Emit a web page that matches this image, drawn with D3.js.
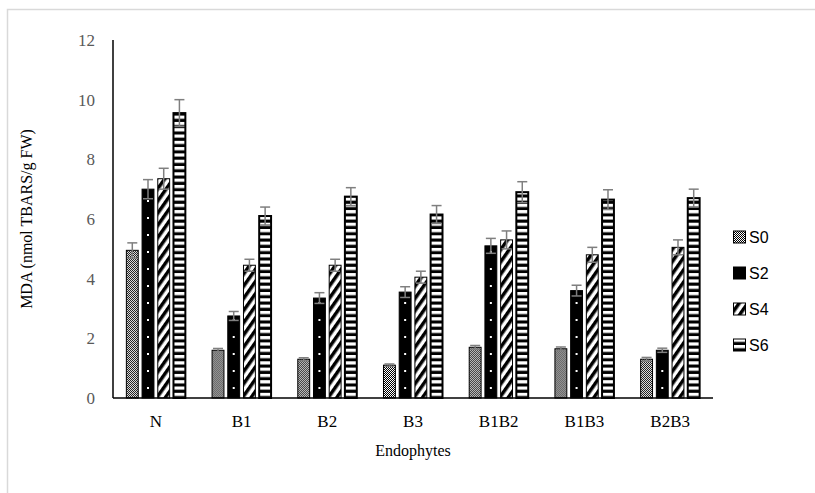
<!DOCTYPE html>
<html>
<head>
<meta charset="utf-8">
<title>MDA endophytes</title>
<script src="https://d3js.org/d3.v7.min.js"></script>
<style>
  body { margin: 0; background: #fff; }
  svg text { font-family: "Liberation Serif", "DejaVu Serif", serif; }
</style>
</head>
<body>
<div id="chart"></div>
<script>
// data
const categories = ["N", "B1", "B2", "B3", "B1B2", "B1B3", "B2B3"];
const seriesNames = ["S0", "S2", "S4", "S6"];
const s0 = [4.95, 1.6, 1.3, 1.1, 1.7, 1.65, 1.3];
const s2 = [7.0, 2.75, 3.35, 3.55, 5.1, 3.6, 1.6];
const s4 = [7.35, 4.45, 4.45, 4.05, 5.3, 4.8, 5.05];
const s6 = [9.55, 6.1, 6.75, 6.15, 6.9, 6.65, 6.7];
const e0 = [0.25, 0.06, 0.05, 0.04, 0.06, 0.06, 0.06];
const e2 = [0.32, 0.15, 0.18, 0.18, 0.25, 0.18, 0.07];
const e4 = [0.35, 0.2, 0.2, 0.2, 0.3, 0.25, 0.25];
const e6 = [0.45, 0.3, 0.3, 0.3, 0.35, 0.33, 0.3];
const yTicks = [0, 2, 4, 6, 8, 10, 12];

const values = [s0, s2, s4, s6];
const errors = [e0, e2, e4, e6];

const W = 815, H = 493;
const svg = d3.select("#chart").append("svg").attr("width", W).attr("height", H);

// outer chart border
svg.append("rect")
  .attr("x", 7.5).attr("y", 9.5).attr("width", 900).attr("height", 600)
  .attr("fill", "#fff").attr("stroke", "#d9d9d9").attr("stroke-width", 1.5);

const defs = svg.append("defs");

// S0 fine checker
const p0 = defs.append("pattern").attr("id", "pS0")
  .attr("patternUnits", "userSpaceOnUse").attr("width", 2).attr("height", 2);
p0.append("rect").attr("width", 2).attr("height", 2).attr("fill", "#fff");
p0.append("rect").attr("width", 1).attr("height", 1).attr("fill", "#000");
p0.append("rect").attr("x", 1).attr("y", 1).attr("width", 1).attr("height", 1).attr("fill", "#000");

// S4 wide diagonal
const p4 = defs.append("pattern").attr("id", "pS4")
  .attr("patternUnits", "userSpaceOnUse").attr("width", 7).attr("height", 7)
  .attr("patternTransform", "rotate(35)");
p4.append("rect").attr("width", 7).attr("height", 7).attr("fill", "#fff");
p4.append("rect").attr("width", 3.5).attr("height", 7).attr("fill", "#000");

// S6 horizontal stripes
const p6 = defs.append("pattern").attr("id", "pS6")
  .attr("patternUnits", "userSpaceOnUse").attr("width", 10).attr("height", 6.3);
p6.append("rect").attr("width", 10).attr("height", 6.3).attr("fill", "#000");
p6.append("rect").attr("y", 0).attr("width", 10).attr("height", 3.2).attr("fill", "#fff");

const fills = ["url(#pS0)", "#000", "url(#pS4)", "url(#pS6)"];

const margin = { left: 113, top: 40, right: 102, bottom: 95 };
const plotW = 713 - margin.left;
const plotH = 398 - margin.top;

const g = svg.append("g").attr("transform", `translate(${margin.left},${margin.top})`);

const x = d3.scaleBand().domain(categories).range([0, plotW]).paddingInner(0.3).paddingOuter(0.15);
const xs = d3.scaleBand().domain(seriesNames).range([0, x.bandwidth()]).paddingInner(0.18);
const y = d3.scaleLinear().domain([0, 12]).range([plotH, 0]);

// y axis labels
const yAxis = g.append("g").call(d3.axisLeft(y).tickValues(yTicks).tickSize(0).tickPadding(18));
yAxis.select(".domain").remove();
yAxis.selectAll("text").attr("fill", "#595959").style("font-size", "17px")
  .style("font-family", "Liberation Serif, serif");

// bars
const rows = [];
categories.forEach((c, i) => {
  seriesNames.forEach((s, j) => {
    rows.push({ cat: c, ser: s, j: j, v: values[j][i], e: errors[j][i] });
  });
});

const bars = g.append("g").selectAll("g").data(rows).join("g")
  .attr("transform", d => `translate(${x(d.cat) + xs(d.ser)},0)`);

bars.append("rect")
  .attr("x", 0.5)
  .attr("y", d => y(d.v))
  .attr("width", xs.bandwidth() - 1)
  .attr("height", d => y(0) - y(d.v))
  .attr("fill", d => fills[d.j])
  .attr("stroke", "#000")
  .attr("stroke-width", d => d.j === 3 ? 2 : 1);

// white dots for S2
bars.filter(d => d.j === 1).each(function(d) {
  const top = y(d.v) + 4;
  const pts = [];
  for (let yy = plotH - 10; yy > top; yy -= 17) pts.push(yy);
  d3.select(this).selectAll("rect.dot").data(pts).join("rect")
    .attr("class", "dot")
    .attr("x", xs.bandwidth() / 2 - 1).attr("y", p => p - 1)
    .attr("width", 2).attr("height", 2).attr("fill", "#fff");
});

// error bars
const eb = bars.append("g").attr("stroke", "#7f7f7f").attr("stroke-width", 1.5);
eb.append("line")
  .attr("x1", xs.bandwidth() / 2).attr("x2", xs.bandwidth() / 2)
  .attr("y1", d => y(d.v - d.e)).attr("y2", d => y(d.v + d.e));
eb.append("line")
  .attr("x1", xs.bandwidth() / 2 - 5).attr("x2", xs.bandwidth() / 2 + 5)
  .attr("y1", d => y(d.v + d.e)).attr("y2", d => y(d.v + d.e));
eb.append("line")
  .attr("x1", xs.bandwidth() / 2 - 5).attr("x2", xs.bandwidth() / 2 + 5)
  .attr("y1", d => y(d.v - d.e)).attr("y2", d => y(d.v - d.e));

// axis lines
g.append("line").attr("x1", 0).attr("x2", 0).attr("y1", 0).attr("y2", plotH)
  .attr("stroke", "#000").attr("stroke-width", 1.5);
g.append("line").attr("x1", 0).attr("x2", plotW).attr("y1", plotH).attr("y2", plotH)
  .attr("stroke", "#000").attr("stroke-width", 1.5);

// x axis labels
const xAxis = g.append("g").attr("transform", `translate(0,${plotH})`)
  .call(d3.axisBottom(x).tickSize(0).tickPadding(17));
xAxis.select(".domain").remove();
xAxis.selectAll("text").attr("fill", "#000").style("font-size", "17px")
  .style("font-family", "Liberation Serif, serif");

// axis titles
svg.append("text").attr("x", margin.left + plotW / 2).attr("y", 456)
  .attr("text-anchor", "middle").style("font-size", "16px").text("Endophytes");
svg.append("text")
  .attr("transform", `translate(32,${margin.top + plotH / 2}) rotate(-90)`)
  .attr("text-anchor", "middle").style("font-size", "16px").text("MDA (nmol TBARS/g FW)");

// legend
const lg = svg.append("g").attr("transform", "translate(733,237)");
const li = lg.selectAll("g").data(seriesNames).join("g")
  .attr("transform", (d, i) => `translate(0,${i * 36})`);
li.append("rect").attr("x", 0.5).attr("y", -6).attr("width", 12).attr("height", 12)
  .attr("fill", (d, i) => fills[i]).attr("stroke", "#000").attr("stroke-width", 1);
li.append("text").attr("x", 16).attr("y", 6)
  .style("font-family", "Liberation Sans, Arial, sans-serif").style("font-size", "16px")
  .text(d => d);
</script>
</body>
</html>
